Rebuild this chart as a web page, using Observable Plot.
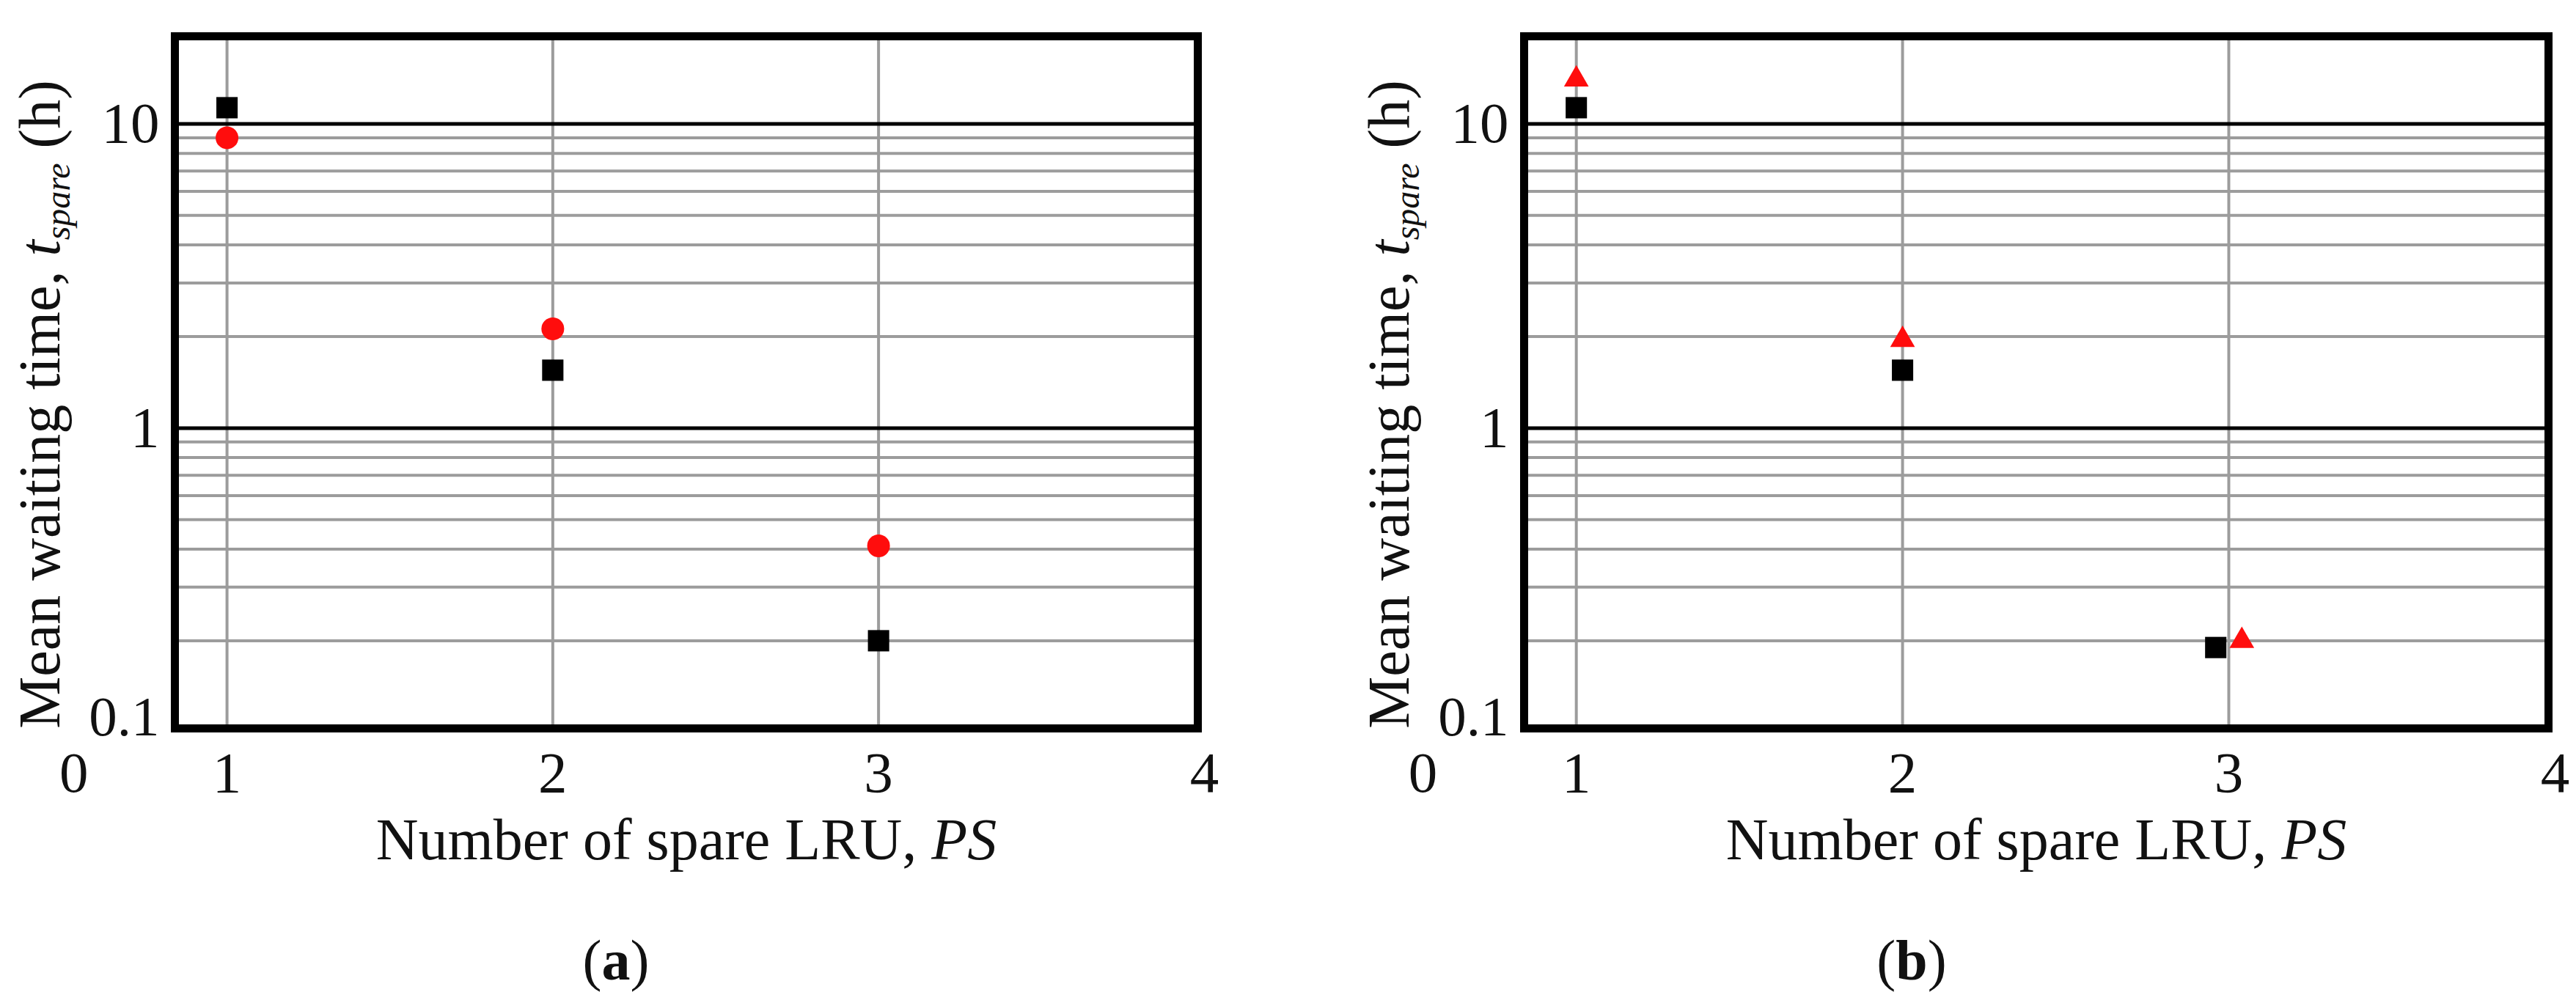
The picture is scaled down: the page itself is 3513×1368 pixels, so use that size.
<!DOCTYPE html>
<html>
<head>
<meta charset="utf-8">
<script src="https://cdn.jsdelivr.net/npm/d3@7"></script>
<script src="https://cdn.jsdelivr.net/npm/@observablehq/plot@0.6"></script>
<style>
  html, body { margin: 0; padding: 0; background: #fff; }
  body { width: 3513px; height: 1368px; position: relative; overflow: hidden; font-family: "Liberation Serif", serif; color: #111; }
  .panel { position: absolute; top: 0; }
  .cap { position: absolute; top: 1262px; font-size: 78px; line-height: 96px; transform: translateX(-50%); white-space: nowrap; }
</style>
</head>
<body>
<div id="panelA" class="panel" style="left:0px;width:1700px"></div>
<div id="panelB" class="panel" style="left:1800px;width:1713px"></div>
<div class="cap" style="left:840px">(<b>a</b>)</div>
<div class="cap" style="left:2607px">(<b>b</b>)</div>
<script>
// ---- data ----
const spareLRU = [1, 2, 3];
// Panel (a)
const aSquareX = [1, 2, 3];
const aSquareY = [11.3, 1.55, 0.2];
const aCircleX = [1, 2, 3];
const aCircleY = [9.0, 2.12, 0.41];
// Panel (b)
const bSquareX = [1, 2, 2.96];
const bSquareY = [11.3, 1.55, 0.19];
const bTriangleX = [1, 2, 3.04];
const bTriangleY = [14.0, 1.95, 0.2];
// axes / grid
const xGrid = [1, 2, 3];
const yMajorGrid = [1, 10];
const yMinorGrid = [0.2, 0.3, 0.4, 0.5, 0.6, 0.7, 0.8, 0.9, 2, 3, 4, 5, 6, 7, 8, 9];
const xTickValues = [0.53, 1, 2, 3, 4];
const xTickLabels = ["0", "1", "2", "3", "4"];
const yTickValues = [10, 1];
const yBottomTick = [0.1];
const xTitle = "Number of spare LRU, PS";
const yTitle = "Mean waiting time, tspare (h)";

const SVGNS = "http://www.w3.org/2000/svg";
function tspan(txt, attrs) {
  const t = document.createElementNS(SVGNS, "tspan");
  for (const k in attrs) t.setAttribute(k, attrs[k]);
  t.textContent = txt;
  return t;
}

function makePanel(el, width, marginLeft, marginRight, series) {
  const height = 1240;
  const chart = Plot.plot({
    width, height,
    marginTop: 49, marginBottom: height - 993,
    marginLeft, marginRight,
    x: {domain: [0.84, 3.98]},
    y: {type: "log", domain: [0.103, 19.4]},
    style: {fontFamily: "'Liberation Serif', serif", fontSize: "77px", color: "#111", background: "transparent", maxWidth: "none"},
    marks: [
      Plot.ruleY(yMinorGrid, {stroke: "#9c9c9c", strokeWidth: 4}),
      Plot.ruleX(xGrid, {stroke: "#9c9c9c", strokeWidth: 4}),
      Plot.ruleY(yMajorGrid, {stroke: "#000", strokeWidth: 5}),
      Plot.frame({stroke: "#000", strokeWidth: 11}),
      Plot.axisX({ticks: xTickValues, tickFormat: d => xTickLabels[xTickValues.indexOf(d)], tickSize: 0, tickPadding: 30,
                  label: xTitle, labelAnchor: "center", labelArrow: "none", labelOffset: 178, fontSize: "79px"}),
      Plot.axisY({ticks: yTickValues, tickFormat: d => String(d), tickSize: 0, tickPadding: 21,
                  label: yTitle, labelAnchor: "center", labelArrow: "none", labelOffset: 214, fontSize: "79px"}),
      Plot.axisY({ticks: yBottomTick, tickFormat: d => String(d), tickSize: 0, tickPadding: 21, dy: -20, label: null}),
      ...series
    ]
  });
  // rich text for the axis titles
  const yl = chart.querySelector('g[aria-label="y-axis label"] text');
  if (yl) {
    yl.textContent = "";
    yl.setAttribute("dx", "-30");
    yl.setAttribute("font-size", "80");
    yl.appendChild(tspan("Mean waiting time, ", {}));
    yl.appendChild(tspan("t", {"font-style": "italic"}));
    yl.appendChild(tspan("spare", {"font-style": "italic", "font-size": "48", "dy": "14"}));
    yl.appendChild(tspan(" (h)", {"dy": "-14"}));
  }
  const xl = chart.querySelector('g[aria-label="x-axis label"] text');
  if (xl) {
    xl.textContent = "";
    xl.setAttribute("font-size", "80");
    xl.appendChild(tspan("Number of spare LRU, ", {}));
    xl.appendChild(tspan("PS", {"font-style": "italic"}));
  }
  el.appendChild(chart);
}

const squareA = aSquareX.map((x, i) => ({x, y: aSquareY[i]}));
const circleA = aCircleX.map((x, i) => ({x, y: aCircleY[i]}));
const squareB = bSquareX.map((x, i) => ({x, y: bSquareY[i]}));
const triB = bTriangleX.map((x, i) => ({x, y: bTriangleY[i]}));

makePanel(document.getElementById("panelA"), 1700, 238, 67, [
  Plot.dot(squareA, {x: "x", y: "y", symbol: "square", r: 16.4, fill: "#000", stroke: "none"}),
  Plot.dot(circleA, {x: "x", y: "y", symbol: "circle", r: 15.5, fill: "#ff0d0d", stroke: "none"})
]);
makePanel(document.getElementById("panelB"), 1713, 278, 38, [
  Plot.dot(squareB, {x: "x", y: "y", symbol: "square", r: 16.4, fill: "#000", stroke: "none"}),
  Plot.dot(triB, {x: "x", y: "y", symbol: "triangle", r: 12.5, fill: "#ff0d0d", stroke: "none"})
]);
</script>
</body>
</html>
